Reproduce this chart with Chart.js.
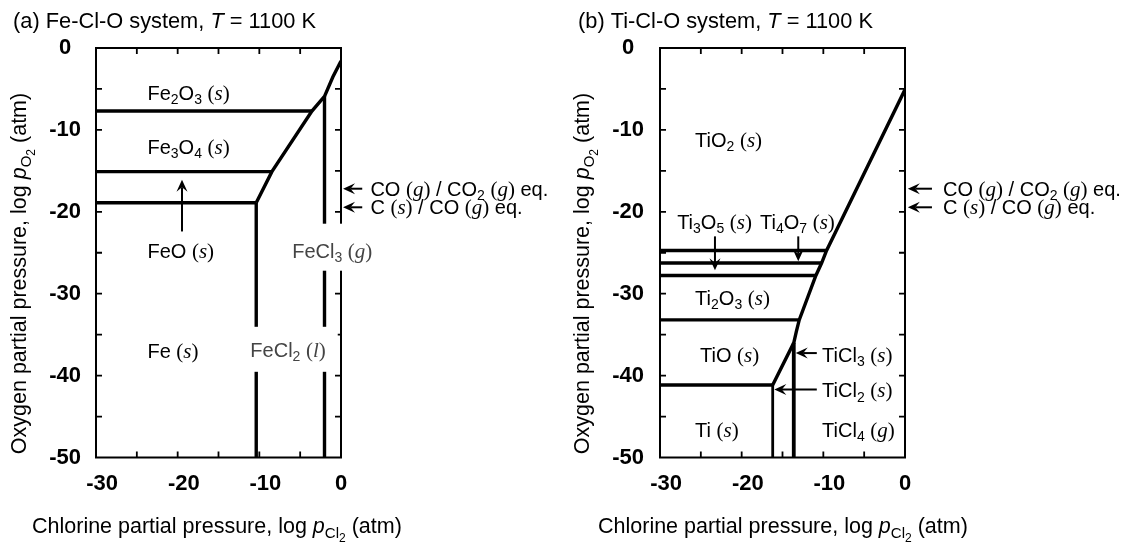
<!DOCTYPE html>
<html>
<head>
<meta charset="utf-8">
<script src="https://cdn.jsdelivr.net/npm/chart.js@4.4.1/dist/chart.umd.min.js"></script>
<style>
  body { margin: 0; background: #fff; }
  #wrap { position: relative; width: 1141px; height: 549px; }
  .panel { position: absolute; top: 0; }
</style>
</head>
<body>
<div id="wrap">
  <canvas id="chartA" class="panel" style="left:0" width="570" height="549"></canvas>
  <canvas id="chartB" class="panel" style="left:570px" width="571" height="549"></canvas>
</div>
<script>
// tick values (both panels)
const xTicks = [-30, -20, -10, 0];
const yTicks = [0, -10, -20, -30, -40, -50];

// (a) Fe-Cl-O boundaries, [log pCl2, log pO2]
const feFe2O3Fe3O4 = [[-30, -7.7], [-3.56, -7.7]];
const feFe3O4FeO = [[-30, -15.1], [-8.46, -15.1]];
const feFeOFe = [[-30, -18.9], [-10.38, -18.9]];
const feOxideChloride = [[0, -1.6], [-1.0, -3.55], [-2.02, -5.9], [-3.56, -7.7], [-8.46, -15.1], [-10.38, -18.9]];
const feFeFeCl2 = [[-10.38, -18.9], [-10.38, -50]];
const feFeCl2FeCl3 = [[-2.02, -5.9], [-2.02, -50]];

// (b) Ti-Cl-O boundaries
const tiTiO2Ti4O7 = [[-30, -24.72], [-9.6, -24.72]];
const tiTi4O7Ti3O5 = [[-30, -26.26], [-10.21, -26.26]];
const tiTi3O5Ti2O3 = [[-30, -27.78], [-10.91, -27.78]];
const tiTi2O3TiO = [[-30, -33.2], [-12.95, -33.2]];
const tiTiOTi = [[-30, -41.14], [-16.2, -41.14]];
const tiOxideChloride = [[0, -5.07], [-9.6, -24.72], [-10.21, -26.26], [-10.91, -27.78], [-12.95, -33.2], [-13.3, -34.6], [-13.62, -36.0], [-16.2, -41.14]];
const tiTiCl3TiCl4 = [[-13.62, -36.0], [-13.62, -50]];
const tiTiTiCl2 = [[-16.2, -41.14], [-16.2, -50]];

// CO/CO2 and C/CO equilibrium levels
const coCo2Level = -17.18;
const cCoLevel = -19.45;

const SANS = '"Liberation Sans", Arial, Helvetica, sans-serif';
const SERIF = '"Liberation Serif", "Times New Roman", serif';

// _x / _{..} subscript, !x second-level subscript, *x* serif italic, ~x~ sans italic, [ ] serif parens
function parseRich(str) {
  const parts = [];
  const special = '_!*~[]';
  let i = 0;
  while (i < str.length) {
    const c = str[i];
    if (c === '_' || c === '!') {
      const lvl = c === '_' ? 1 : 2;
      if (str[i + 1] === '{') {
        const j = str.indexOf('}', i);
        parts.push({ t: str.slice(i + 2, j), sub: lvl });
        i = j + 1;
      } else {
        parts.push({ t: str[i + 1], sub: lvl });
        i += 2;
      }
    } else if (c === '*' || c === '~') {
      const j = str.indexOf(c, i + 1);
      parts.push({ t: str.slice(i + 1, j), f: c === '*' ? 'serifIt' : 'sansIt' });
      i = j + 1;
    } else if (c === '[' || c === ']') {
      parts.push({ t: c === '[' ? '(' : ')', f: 'serif' });
      i++;
    } else {
      let j = i;
      while (j < str.length && !special.includes(str[j])) j++;
      parts.push({ t: str.slice(i, j) });
      i = j;
    }
  }
  return parts;
}

function fontFor(p) {
  const serif = p.f === 'serif' || p.f === 'serifIt';
  const it = (p.f === 'serifIt' || p.f === 'sansIt') ? 'italic ' : '';
  return it + p.size + 'px ' + (serif ? SERIF : SANS);
}

function layoutRich(ctx, str, size) {
  const parts = parseRich(str);
  let w = 0;
  for (const p of parts) {
    const s = (p.f === 'serif' || p.f === 'serifIt') ? size * 1.05 : size;
    p.size = p.sub === 2 ? s * 0.56 : p.sub === 1 ? s * 0.7 : s;
    p.dy = p.sub === 2 ? size * 0.42 : p.sub === 1 ? size * 0.22 : 0;
    ctx.font = fontFor(p);
    p.w = ctx.measureText(p.t).width;
    w += p.w;
  }
  return { parts, w };
}

function drawRich(ctx, str, x, y, size, align) {
  const L = layoutRich(ctx, str, size);
  let cx = align === 'center' ? x - L.w / 2 : x;
  const base = y + size * 0.36;
  ctx.textAlign = 'left';
  ctx.textBaseline = 'alphabetic';
  for (const p of L.parts) {
    ctx.font = fontFor(p);
    ctx.fillText(p.t, cx, base + p.dy);
    cx += p.w;
  }
  return L.w;
}

function drawArrow(ctx, x1, y1, x2, y2) {
  const ang = Math.atan2(y2 - y1, x2 - x1);
  const len = Math.hypot(x2 - x1, y2 - y1);
  const L = 12, W = 5.5, N = 4.5;
  ctx.save();
  ctx.translate(x2, y2);
  ctx.rotate(ang);
  ctx.lineWidth = 2;
  ctx.beginPath();
  ctx.moveTo(-len, 0);
  ctx.lineTo(-L + N, 0);
  ctx.stroke();
  ctx.beginPath();
  ctx.moveTo(0, 0);
  ctx.lineTo(-L, -W);
  ctx.lineTo(-L + N, 0);
  ctx.lineTo(-L, W);
  ctx.closePath();
  ctx.fill();
  ctx.restore();
}

const phaseDecor = {
  id: 'phaseDecor',
  afterDatasetsDraw(chart, args, o) {
    const ctx = chart.ctx, ca = chart.chartArea;
    const xs = chart.scales.x, ys = chart.scales.y;
    const px = v => xs.getPixelForValue(v);
    const py = v => ys.getPixelForValue(v);
    ctx.save();
    ctx.strokeStyle = '#000';
    ctx.fillStyle = '#000';

    // inward ticks every 5 units on all four sides
    ctx.lineWidth = 1.8;
    ctx.beginPath();
    for (let v = xs.min + 5; v < xs.max; v += 5) {
      const x = px(v);
      ctx.moveTo(x, ca.bottom); ctx.lineTo(x, ca.bottom - 6);
      ctx.moveTo(x, ca.top); ctx.lineTo(x, ca.top + 6);
    }
    for (let v = ys.min + 5; v < ys.max; v += 5) {
      const y = py(v);
      ctx.moveTo(ca.left, y); ctx.lineTo(ca.left + 6, y);
      ctx.moveTo(ca.right, y); ctx.lineTo(ca.right - 6, y);
    }
    ctx.stroke();
    ctx.lineWidth = 2;
    ctx.strokeRect(ca.left, ca.top, ca.right - ca.left, ca.bottom - ca.top);

    const size = o.labelSize;
    for (const lb of o.labels) {
      const x = px(lb.x), y = py(lb.y);
      if (lb.bg) {
        const w = layoutRich(ctx, lb.s, size).w;
        ctx.fillStyle = '#fff';
        ctx.fillRect(x - lb.bg.l, y - lb.bg.t, w + lb.bg.l + lb.bg.r, lb.bg.t + lb.bg.b);
      }
      ctx.fillStyle = lb.c || '#000';
      drawRich(ctx, lb.s, x, y, size, 'left');
    }
    ctx.fillStyle = '#000';
    for (const a of o.arrows) {
      drawArrow(ctx, px(a.from[0]), py(a.from[1]), px(a.to[0]), py(a.to[1]));
    }

    // titles
    drawRich(ctx, o.title, o.titleX, 20, 21.8, 'left');
    drawRich(ctx, 'Chlorine partial pressure, log ~p~_{Cl}!2 (atm)', o.xTitleX, 525.3, 21.5, 'left');
    ctx.save();
    ctx.translate(o.yTitleX, 273.5);
    ctx.rotate(-Math.PI / 2);
    drawRich(ctx, 'Oxygen partial pressure, log ~p~_{O}!2 (atm)', 0, 0, 21.5, 'center');
    ctx.restore();
    ctx.restore();
  }
};

function makeChart(id, series, decor) {
  return new Chart(document.getElementById(id), {
    type: 'scatter',
    data: {
      datasets: series.map(s => ({
        data: s.pts.map(p => ({ x: p[0], y: p[1] })),
        showLine: true,
        borderColor: '#000',
        borderWidth: s.w || 3.4,
        pointRadius: 0,
        tension: 0,
        borderJoinStyle: 'miter'
      }))
    },
    options: {
      responsive: false,
      animation: false,
      events: [],
      layout: { padding: decor.pad },
      plugins: { legend: { display: false }, tooltip: { enabled: false }, phaseDecor: decor },
      scales: {
        x: {
          type: 'linear', min: -30, max: 0,
          afterBuildTicks: sc => { sc.ticks = xTicks.map(v => ({ value: v })); },
          afterFit: sc => { sc.height = 40; },
          grid: { display: false, drawTicks: false },
          border: { display: false },
          ticks: {
            padding: 13, color: '#000',
            font: { family: SANS, size: 22, weight: 'bold' },
            // negative labels sit a little right of their tick, as in the original
            callback: v => (v < 0 ? '  ' + v : String(v))
          }
        },
        y: {
          type: 'linear', min: -50, max: 0,
          afterBuildTicks: sc => { sc.ticks = yTicks.map(v => ({ value: v })); },
          afterFit: sc => { sc.width = decor.yAxisW; },
          grid: { display: false, drawTicks: false },
          border: { display: false },
          ticks: {
            padding: decor.yPad, crossAlign: 'center', color: '#000',
            font: { family: SANS, size: 22, weight: 'bold' }
          }
        }
      }
    },
    plugins: [phaseDecor]
  });
}

makeChart('chartA', [
  { pts: feFe2O3Fe3O4 }, { pts: feFe3O4FeO }, { pts: feFeOFe },
  { pts: feOxideChloride }, { pts: feFeFeCl2 }, { pts: feFeCl2FeCl3 }
], {
  pad: { left: 0, right: 229, top: 48, bottom: 51.5 },
  yAxisW: 96, yPad: 15,
  labelSize: 20,
  title: '(a) Fe-Cl-O system, ~T~ = 1100 K', titleX: 13, xTitleX: 32, yTitleX: 18.3,
  labels: [
    { s: 'Fe_2O_3 [*s*]', x: -23.7, y: -5.45 },
    { s: 'Fe_3O_4 [*s*]', x: -23.7, y: -12.05 },
    { s: 'FeO [*s*]', x: -23.7, y: -24.75 },
    { s: 'Fe [*s*]', x: -23.7, y: -37.0 },
    { s: 'FeCl_2 [*l*]', x: -11.1, y: -36.85, c: '#444', bg: { l: 6, r: 12, t: 23, b: 22 } },
    { s: 'FeCl_3 [*g*]', x: -5.97, y: -24.75, c: '#444', bg: { l: 8, r: 4, t: 27, b: 20 } },
    { s: 'CO [*g*] / CO_2 [*g*] eq.', x: 3.6, y: coCo2Level },
    { s: 'C [*s*] / CO [*g*] eq.', x: 3.6, y: cCoLevel }
  ],
  arrows: [
    { from: [-19.47, -22.4], to: [-19.47, -16.1] },
    { from: [2.6, coCo2Level], to: [0.25, coCo2Level] },
    { from: [2.6, cCoLevel], to: [0.25, cCoLevel] }
  ]
});

makeChart('chartB', [
  { pts: tiTiO2Ti4O7 }, { pts: tiTi4O7Ti3O5 }, { pts: tiTi3O5Ti2O3 },
  { pts: tiTi2O3TiO }, { pts: tiTiOTi }, { pts: tiOxideChloride },
  { pts: tiTiCl3TiCl4, w: 3.8 }, { pts: tiTiTiCl2, w: 2.8 }
], {
  pad: { left: 0, right: 236, top: 48, bottom: 51.5 },
  yAxisW: 90, yPad: 16,
  labelSize: 20,
  title: '(b) Ti-Cl-O system, ~T~ = 1100 K', titleX: 8, xTitleX: 28, yTitleX: 11.3,
  labels: [
    { s: 'TiO_2 [*s*]', x: -25.7, y: -11.2 },
    { s: 'Ti_3O_5 [*s*]', x: -27.9, y: -21.2 },
    { s: 'Ti_4O_7 [*s*]', x: -17.75, y: -21.2 },
    { s: 'Ti_2O_3 [*s*]', x: -25.7, y: -30.5 },
    { s: 'TiO [*s*]', x: -25.1, y: -37.45 },
    { s: 'TiCl_3 [*s*]', x: -10.15, y: -37.45 },
    { s: 'TiCl_2 [*s*]', x: -10.15, y: -41.75 },
    { s: 'Ti [*s*]', x: -25.7, y: -46.6 },
    { s: 'TiCl_4 [*g*]', x: -10.15, y: -46.6 },
    { s: 'CO [*g*] / CO_2 [*g*] eq.', x: 4.65, y: coCo2Level },
    { s: 'C [*s*] / CO [*g*] eq.', x: 4.65, y: cCoLevel }
  ],
  arrows: [
    { from: [-23.27, -23.0], to: [-23.27, -27.15] },
    { from: [-13.07, -23.0], to: [-13.07, -26.05] },
    { from: [-10.8, -37.25], to: [-13.38, -37.25] },
    { from: [-10.8, -41.7], to: [-16.0, -41.7] },
    { from: [3.3, coCo2Level], to: [0.35, coCo2Level] },
    { from: [3.3, cCoLevel], to: [0.35, cCoLevel] }
  ]
});
</script>
</body>
</html>
